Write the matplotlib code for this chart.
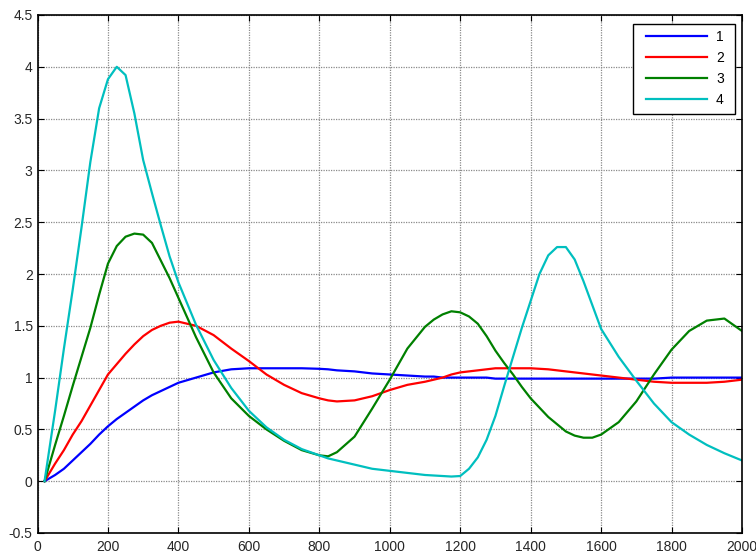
import matplotlib
matplotlib.use("Agg")
import matplotlib.pyplot as plt
from matplotlib.patches import Rectangle

plt.rcParams['font.family'] = ['Liberation Sans', 'DejaVu Sans']

x = [20, 50, 75, 100, 125, 150, 175, 200, 225, 250, 275, 300, 325, 350, 375, 400,
     450, 500, 550, 600, 650, 700, 750, 800, 825, 850, 900, 950, 1000, 1050, 1100,
     1125, 1150, 1175, 1200, 1225, 1250, 1275, 1300, 1325, 1350, 1375, 1400, 1425,
     1450, 1475, 1500, 1525, 1550, 1575, 1600,
     1650, 1700, 1750, 1800, 1850, 1900, 1950, 2000]

y1 = [0, 0.06, 0.12, 0.2, 0.28, 0.36, 0.45, 0.53, 0.6, 0.66, 0.72, 0.78, 0.83, 0.87, 0.91, 0.95,
      1.0, 1.05, 1.08, 1.09, 1.09, 1.09, 1.09, 1.085, 1.08, 1.07, 1.06, 1.04, 1.03, 1.02, 1.01,
      1.01, 1.0, 1.0, 1.0, 1.0, 1.0, 1.0, 0.99, 0.99, 0.99, 0.99, 0.99, 0.99,
      0.99, 0.99, 0.99, 0.99, 0.99, 0.99, 0.99,
      0.99, 0.99, 0.99, 1.0, 1.0, 1.0, 1.0, 1.0]

y2 = [0, 0.17, 0.3, 0.45, 0.58, 0.73, 0.88, 1.03, 1.13, 1.23, 1.32, 1.4, 1.46, 1.5, 1.53, 1.54,
      1.5, 1.41, 1.28, 1.16, 1.03, 0.93, 0.85, 0.8, 0.78, 0.77, 0.78, 0.82, 0.88, 0.93, 0.96,
      0.98, 1.0, 1.03, 1.05, 1.06, 1.07, 1.08, 1.09, 1.09, 1.09, 1.09, 1.09, 1.085,
      1.08, 1.07, 1.06, 1.05, 1.04, 1.03, 1.02,
      1.0, 0.98, 0.96, 0.95, 0.95, 0.95, 0.96, 0.98]

y3 = [0, 0.35, 0.63, 0.92, 1.2, 1.48, 1.8, 2.1, 2.27, 2.36, 2.39, 2.38, 2.3, 2.13, 1.96, 1.77,
      1.39, 1.05, 0.8, 0.63, 0.5, 0.39, 0.3, 0.25, 0.24, 0.28, 0.43, 0.7, 0.98, 1.28, 1.49,
      1.56, 1.61, 1.64, 1.63, 1.59, 1.52, 1.4, 1.26, 1.14, 1.03, 0.91, 0.8, 0.71,
      0.62, 0.55, 0.48, 0.44, 0.42, 0.42, 0.45,
      0.57, 0.77, 1.03, 1.27, 1.45, 1.55, 1.57, 1.45]

y4 = [0, 0.68, 1.28, 1.85, 2.45, 3.08, 3.6, 3.88, 4.0, 3.92, 3.55, 3.1, 2.78, 2.47, 2.17, 1.92,
      1.51, 1.17, 0.9, 0.68, 0.52, 0.4, 0.31, 0.25, 0.22, 0.2, 0.16, 0.12, 0.1, 0.08, 0.06,
      0.055, 0.05, 0.045, 0.05, 0.12, 0.23, 0.4, 0.63, 0.92, 1.2, 1.48, 1.74, 2.0,
      2.18, 2.26, 2.26, 2.14, 1.93, 1.7, 1.47,
      1.2, 0.97, 0.75, 0.57, 0.45, 0.35, 0.27, 0.2]

labels = ['1', '2', '3', '4']
colors = ['#0000ff', '#ff0000', '#008000', '#00bfbf']

L, R, T, B = 37.5, 742.0, 15.0, 533.0
W, H = 756.0, 554.0
fig = plt.figure(figsize=(7.56, 5.54), dpi=100)
ax = fig.add_axes([L / W, 1 - B / H, (R - L) / W, (B - T) / H])

for y, lab, c in zip([y1, y2, y3, y4], labels, colors):
    ax.plot(x, y, color=c, lw=1.6, label=lab)

ax.set_xlim(0, 2000)
ax.set_ylim(-0.5, 4.5)
ax.set_xticks(range(0, 2001, 200))
ax.set_yticks([-0.5, 0, 0.5, 1, 1.5, 2, 2.5, 3, 3.5, 4, 4.5])
ax.set_yticklabels(['-0.5', '0', '0.5', '1', '1.5', '2', '2.5', '3', '3.5', '4', '4.5'])
ax.tick_params(direction='in', top=True, right=True, labelsize=10, length=4, colors='black',
               labelcolor='#262626')
ax.tick_params(axis='x', pad=5)
ax.grid(True, color='#8a8a8a', linestyle=(0, (1, 1)), linewidth=0.9)
ax.set_axisbelow(True)
for s in ax.spines.values():
    s.set_linewidth(1.2)

def fx(px):
    return (px - L) / (R - L)

def fy(py):
    return (B - py) / (B - T)

box = Rectangle((fx(633), fy(114)), fx(735) - fx(633), fy(24) - fy(114),
                transform=ax.transAxes, facecolor='white', edgecolor='black',
                linewidth=1.0, zorder=4.9)
ax.add_patch(box)

fs_px = 10 * 100 / 72.0
leg = ax.legend(loc='upper left', bbox_to_anchor=(fx(646 - 0.45 * fs_px), fy(24)),
                fontsize=10, handlelength=61 / fs_px, handletextpad=0.65,
                frameon=False, borderaxespad=0, borderpad=0.45, labelspacing=0.5)
leg.set_zorder(5)

fig.savefig('out.png', dpi=100)
